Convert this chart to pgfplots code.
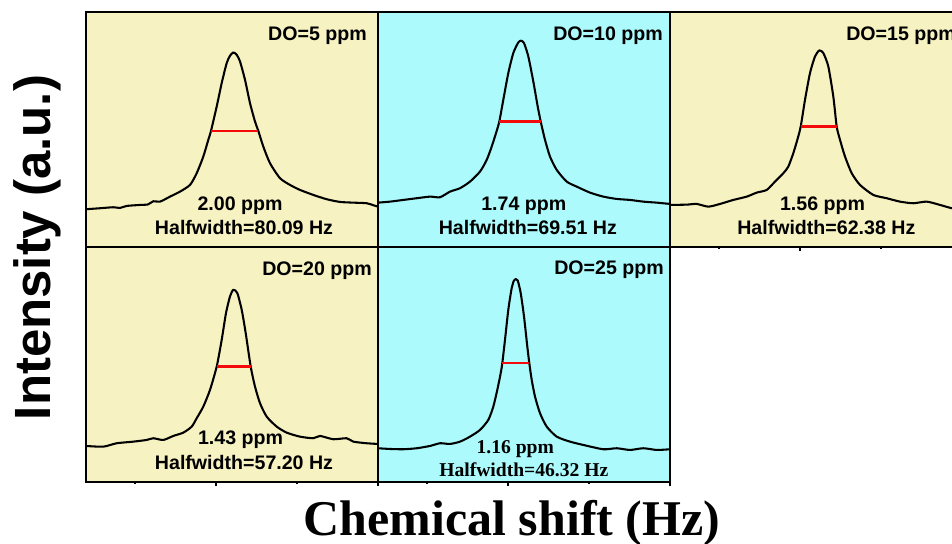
\documentclass[border=0pt]{standalone}
\usepackage{pgfplots}
\pgfplotsset{compat=1.18}
\usepackage{fontspec}
\setmainfont{Liberation Sans}
\newfontfamily\timesfont{Liberation Serif}
\definecolor{ybg}{RGB}{246,242,194}
\definecolor{cbg}{RGB}{172,250,252}
\definecolor{hwred}{RGB}{245,10,10}
\tikzset{lbl/.style={font=\fontsize{14.7pt}{17pt}\selectfont\bfseries, inner sep=0pt},
  curve/.style={draw=black, line width=1.55pt, smooth, tension=0.4, line join=round},
  hw/.style={draw=hwred, line width=1.6pt}}
\begin{document}
\begin{tikzpicture}
\useasboundingbox (0,0) rectangle (714pt,407.25pt);
\pgfplotsset{
 panel/.style={scale only axis, width=219pt, height=176.25pt,
   xmin=0, xmax=292, ymin=0, ymax=235,
   axis line style={line width=1.35pt},
   ytick=\empty, xtick=\empty, clip=true, anchor=south west},
 withticks/.style={xtick={130,292}, minor xtick={49,211}, xticklabels={},
   xtick pos=left, tick align=outside, major tick length=3pt, minor tick length=1.6pt,
   every tick/.style={black, line width=1pt}},
}
% ---------- panel 1 : DO=5 ppm
\begin{axis}[panel, at={(64.5pt,222pt)}, axis background/.style={fill=ybg}]
\addplot[curve] coordinates {
(0,37.7) (14,38.7) (27.3,39.7) (34,39) (40.7,41) (54,42) (62,42.5) (67.3,45.7) (74,45.3)
(84,50.3) (94,55.3) (104,62) (110.7,73.7) (117.3,90.3) (122.3,107) (125,116)
(130.7,140.3) (135.7,163.7) (140.7,183.7) (144,191) (147.3,194.3) (150.7,192)
(154,185.3) (159,167) (164,143.7) (169,125.3) (172.3,116) (177.3,100.3) (184,83.7)
(194,68.7) (204,62) (214,57) (227.3,52) (240.7,47.7) (254,45) (267.3,44.3)
(280.7,43.7) (288,41.5) (292,40.3)};
\addplot[hw] coordinates {(125,116) (172.3,116)};
\node[lbl, anchor=base east] at (axis cs:281,206.3) {DO=5 ppm};
\node[lbl, anchor=base] at (axis cs:154,36.3) {2.00 ppm};
\node[lbl, anchor=base] at (axis cs:158,12) {Halfwidth=80.09 Hz};
\end{axis}
% ---------- panel 2 : DO=10 ppm
\begin{axis}[panel, at={(283.5pt,222pt)}, axis background/.style={fill=cbg}]
\addplot[curve] coordinates {
(0,44.3) (12,45.3) (25.3,47) (38.7,48.7) (52,50.3) (62,49.7) (72,55.3) (82,58.7)
(92,65.3) (102,75.3) (108.7,87) (113.7,100.3) (118,113.7) (121.3,125.3) (125.3,147)
(130.3,173.7) (135.3,193.7) (140.3,204.3) (143,206) (146,203.7) (150.3,190.3)
(155.3,165.3) (159.7,140.3) (162.7,125.3) (167,107) (172,90.3) (178.7,77)
(188.7,65.3) (198.7,60.3) (212,54.3) (225.3,50.3) (238.7,48) (252,47) (265.3,45.3)
(278.7,44.3) (292,43)};
\addplot[hw] coordinates {(121.3,125.3) (162.7,125.3)};
\node[lbl, anchor=base east] at (axis cs:285,206.3) {DO=10 ppm};
\node[lbl, anchor=base] at (axis cs:145.8,36.3) {1.74 ppm};
\node[lbl, anchor=base] at (axis cs:149.8,12) {Halfwidth=69.51 Hz};
\end{axis}
% ---------- panel 3 : DO=15 ppm
\begin{axis}[panel, withticks, at={(502.5pt,222pt)}, axis background/.style={fill=ybg}]
\addplot[curve] coordinates {
(0,42) (16.7,42.3) (26.7,43) (38.3,40.3) (50,43) (63.3,47) (76.7,50.3) (86.7,54.3)
(96.7,57) (105,65.3) (113.3,73.7) (118.3,80.3) (123.3,93.7) (127.3,107) (130.7,120.3)
(135,147) (140,173.7) (145,190.3) (149.3,196.3) (153.3,193.7) (158.3,180.3)
(163.3,150.3) (166.7,120.3) (170,107) (175,90.3) (181.7,73.7) (190,62) (203.3,52)
(216.7,48.7) (230,45.3) (243.3,43.7) (256.7,45.3) (270,42) (282,38.7) (292,38)};
\addplot[hw] coordinates {(130.7,120.3) (166.7,120.3)};
\node[lbl, anchor=base east] at (axis cs:286,206.3) {DO=15 ppm};
\node[lbl, anchor=base] at (axis cs:152.5,36.3) {1.56 ppm};
\node[lbl, anchor=base] at (axis cs:156.3,12) {Halfwidth=62.38 Hz};
\end{axis}
% ---------- panel 4 : DO=20 ppm
\begin{axis}[panel, withticks, at={(64.5pt,45.75pt)}, axis background/.style={fill=ybg}]
\addplot[curve] coordinates {
(0,36) (17.3,35.3) (30.7,38.7) (47.3,40.3) (60.7,42) (67.3,43.7) (77.3,42) (87.3,46)
(97.3,49.3) (105.7,55.3) (110.7,63.7) (117.3,75.3) (124,92) (130.7,115.3) (135.7,142)
(140,168.7) (144,185.3) (147.3,192) (151.3,188.7) (155.7,172) (159.7,148.7)
(164.7,115.3) (169,95.3) (174,78.7) (180.7,65.3) (190.7,55.3) (200.7,49.3) (214,45.3)
(227.3,43.7) (234,46) (247.3,42.7) (260.7,43.7) (267.3,40.3) (280.7,38.7) (292,38)};
\addplot[hw] coordinates {(130.7,115.3) (164.7,115.3)};
\node[lbl, anchor=base east] at (axis cs:286,206) {DO=20 ppm};
\node[lbl, anchor=base] at (axis cs:154.5,37) {1.43 ppm};
\node[lbl, anchor=base] at (axis cs:158,12.7) {Halfwidth=57.20 Hz};
\end{axis}
% ---------- panel 5 : DO=25 ppm
\begin{axis}[panel, withticks, at={(283.5pt,45.75pt)}, axis background/.style={fill=cbg}]
\addplot[curve] coordinates {
(0,33.7) (12,33) (25.3,32.7) (38.7,33.7) (52,36) (62,38.7) (72,38) (82,40.3) (92,45.3)
(102,52) (110.3,62) (115.3,75.3) (119.3,92) (122.7,108.7) (124.3,118.7) (127,142)
(130.3,172) (133.7,193.7) (136,201.3) (137.7,202.7) (139.7,201.3) (142.7,188.7)
(146,165.3) (149.3,135.3) (151.3,118.7) (153.7,102) (157,85.3) (162,68.7) (168.7,55.3)
(178.7,45.3) (192,40.3) (205.3,37) (225.3,32.7) (238.7,33.7) (252,32) (265.3,33.7)
(278.7,32) (292,32.7)};
\addplot[hw] coordinates {(124.3,118.7) (151.3,118.7)};
\node[lbl, anchor=base east] at (axis cs:286,207) {DO=25 ppm};
\node[lbl, anchor=base, font=\fontsize{14.7pt}{17pt}\selectfont\timesfont\bfseries] at (axis cs:137.3,28.7) {1.16 ppm};
\node[lbl, anchor=base, font=\fontsize{14.7pt}{17pt}\selectfont\timesfont\bfseries] at (axis cs:145.8,5.3) {Halfwidth=46.32 Hz};
\end{axis}
% ---------- axis titles
\node[rotate=90, anchor=base, inner sep=0pt, font=\fontsize{38.2pt}{40pt}\selectfont\bfseries] at (37.5pt,221.6pt) {Intensity (a.u.)};
\node[anchor=base, inner sep=0pt, font=\fontsize{37.5pt}{40pt}\selectfont\timesfont\bfseries] at (384pt,5.5pt) {Chemical shift (Hz)};
\end{tikzpicture}
\end{document}
